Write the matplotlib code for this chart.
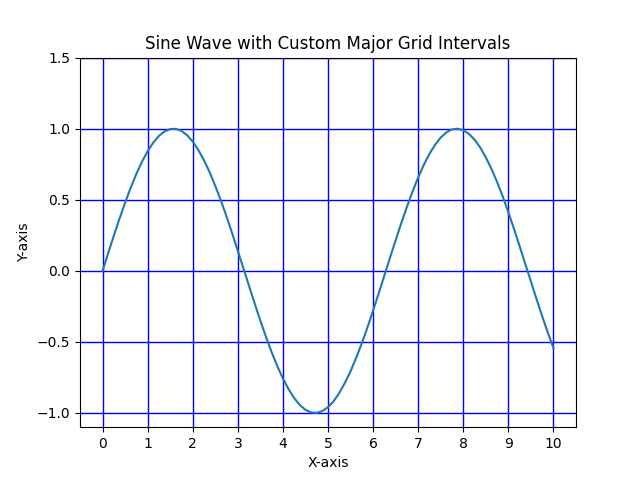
import matplotlib
matplotlib.use("Agg")
import matplotlib.pyplot as plt

# curve values, every 0.125 along x
x_vals = [0, 0.125, 0.25, 0.375, 0.5, 0.625, 0.75, 0.875,
          1, 1.125, 1.25, 1.375, 1.5, 1.625, 1.75, 1.875,
          2, 2.125, 2.25, 2.375, 2.5, 2.625, 2.75, 2.875,
          3, 3.125, 3.25, 3.375, 3.5, 3.625, 3.75, 3.875,
          4, 4.125, 4.25, 4.375, 4.5, 4.625, 4.75, 4.875,
          5, 5.125, 5.25, 5.375, 5.5, 5.625, 5.75, 5.875,
          6, 6.125, 6.25, 6.375, 6.5, 6.625, 6.75, 6.875,
          7, 7.125, 7.25, 7.375, 7.5, 7.625, 7.75, 7.875,
          8, 8.125, 8.25, 8.375, 8.5, 8.625, 8.75, 8.875,
          9, 9.125, 9.25, 9.375, 9.5, 9.625, 9.75, 9.875, 10]
y_vals = [0.0, 0.125, 0.247, 0.366, 0.479, 0.585, 0.682, 0.768,
          0.841, 0.902, 0.949, 0.981, 0.997, 0.999, 0.984, 0.954,
          0.909, 0.85, 0.778, 0.694, 0.598, 0.494, 0.382, 0.264,
          0.141, 0.017, -0.108, -0.231, -0.351, -0.465, -0.572, -0.67,
          -0.757, -0.832, -0.895, -0.944, -0.978, -0.996, -0.999, -0.986,
          -0.959, -0.917, -0.859, -0.788, -0.706, -0.612, -0.509, -0.398,
          -0.279, -0.158, -0.033, 0.092, 0.215, 0.335, 0.45, 0.558,
          0.657, 0.746, 0.823, 0.887, 0.938, 0.974, 0.995, 1.0,
          0.989, 0.963, 0.923, 0.868, 0.798, 0.717, 0.625, 0.523,
          0.412, 0.295, 0.173, 0.049, -0.075, -0.199, -0.319, -0.435, -0.544]

x_ticks = list(range(0, 11))
y_ticks = [-1.0, -0.5, 0.0, 0.5, 1.0, 1.5]

fig, ax = plt.subplots(figsize=(6.4, 4.8), dpi=100)
ax.plot(x_vals, y_vals)
ax.set_xticks(x_ticks)
ax.set_yticks(y_ticks)
ax.set_ylim(-1.1, 1.5)
ax.grid(True, which='major', color='blue', linewidth=1)
ax.set_title('Sine Wave with Custom Major Grid Intervals')
ax.set_xlabel('X-axis')
ax.set_ylabel('Y-axis')

fig.savefig('out.png')
